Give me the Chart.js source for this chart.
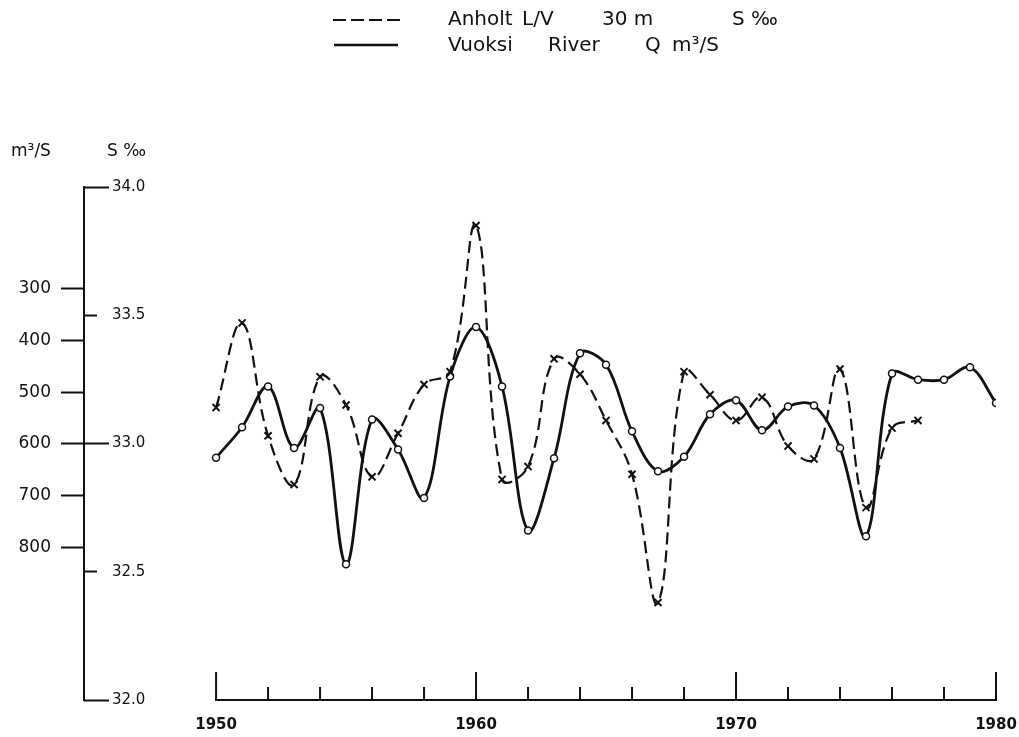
<!DOCTYPE html>
<html>
<head>
<meta charset="utf-8">
<script src="https://cdn.jsdelivr.net/npm/chart.js@4/dist/chart.umd.min.js"></script>
<style>
  html, body { margin: 0; padding: 0; background: #fff; }
  #wrap { width: 1019px; height: 737px; position: relative; }
</style>
</head>
<body>
<div id="wrap"><canvas id="c" width="1019" height="737"></canvas></div>
<script>
// years, Vuoksi River discharge (m3/s) and Anholt L/V 30 m salinity (per mille)
const yearsQ = [1950, 1951, 1952, 1953, 1954, 1955, 1956, 1957, 1958, 1959,
  1960, 1961, 1962, 1963, 1964, 1965, 1966, 1967, 1968, 1969,
  1970, 1971, 1972, 1973, 1974, 1975, 1976, 1977, 1978, 1979, 1980];
const vuoksiQ = [627, 568, 489, 608, 531, 833, 553, 611, 705, 470,
  374, 489, 768, 628, 425, 447, 576, 653, 625, 543,
  516, 574, 528, 526, 608, 779, 464, 476, 476, 452, 521];

const yearsS = [1950, 1951, 1952, 1953, 1954, 1955, 1956, 1957, 1958, 1959,
  1960, 1961, 1962, 1963, 1964, 1965, 1966, 1967, 1968, 1969,
  1970, 1971, 1972, 1973, 1974, 1975, 1976, 1977];
const anholtS = [33.14, 33.47, 33.03, 32.84, 33.26, 33.15, 32.87, 33.04, 33.23, 33.28,
  33.85, 32.86, 32.91, 33.33, 33.27, 33.09, 32.88, 32.38, 33.28, 33.19,
  33.09, 33.18, 32.99, 32.94, 33.29, 32.75, 33.06, 33.09];

// tick labels
const xLabelYears = [1950, 1960, 1970, 1980];
const xTickYears = [1950, 1952, 1954, 1956, 1958, 1960, 1962, 1964, 1966, 1968,
  1970, 1972, 1974, 1976, 1978, 1980];
const qTicks = [300, 400, 500, 600, 700, 800];
const sTicksMajor = [32.0, 33.0, 34.0];
const sTicksHalf = [32.5, 33.5];

const INK = '#111';
const FONT = 'DejaVu Sans';

// x axis base line and ticks, headers and legend
const extras = {
  id: 'extras',
  afterDraw(chart) {
    const ctx = chart.ctx;
    const x = chart.scales.x;
    const base = chart.chartArea.bottom;
    ctx.save();
    ctx.strokeStyle = INK;
    ctx.lineWidth = 2;
    ctx.beginPath();
    ctx.moveTo(x.getPixelForValue(xTickYears[0]), base);
    ctx.lineTo(x.getPixelForValue(xTickYears[xTickYears.length - 1]), base);
    xTickYears.forEach((yr) => {
      const px = x.getPixelForValue(yr);
      const len = xLabelYears.includes(yr) ? 28 : 13;
      ctx.moveTo(px, base + 1);
      ctx.lineTo(px, base - len);
    });
    ctx.stroke();

    ctx.fillStyle = INK;
    ctx.textBaseline = 'middle';
    ctx.font = '17px "' + FONT + '"';
    ctx.fillText('m³/S', 11, 152);
    ctx.fillText('S ‰', 107, 152);

    // legend
    ctx.lineWidth = 2;
    ctx.setLineDash([13, 5]);
    ctx.beginPath();
    ctx.moveTo(333, 20);
    ctx.lineTo(400, 20);
    ctx.stroke();
    ctx.setLineDash([]);
    ctx.lineWidth = 2.5;
    ctx.beginPath();
    ctx.moveTo(334, 45);
    ctx.lineTo(398, 45);
    ctx.stroke();

    ctx.font = '20px "' + FONT + '"';
    const row1 = [['Anholt', 448], ['L/V', 522], ['30 m', 602], ['S ‰', 732]];
    const row2 = [['Vuoksi', 448], ['River', 548], ['Q', 645], ['m³/S', 672]];
    row1.forEach(([t, px]) => ctx.fillText(t, px, 20));
    row2.forEach(([t, px]) => ctx.fillText(t, px, 46));
    ctx.restore();
  }
};

const setTicks = (vals) => (axis) => { axis.ticks = vals.map((v) => ({ value: v })); };

new Chart(document.getElementById('c'), {
  type: 'line',
  data: {
    datasets: [
      {
        label: 'Anholt L/V 30 m S ‰',
        data: yearsS.map((yr, i) => ({ x: yr, y: anholtS[i] })),
        yAxisID: 's',
        borderColor: INK,
        borderWidth: 2.2,
        borderDash: [12, 6],
        tension: 0.4,
        pointStyle: 'crossRot',
        pointRadius: 5,
        pointBorderWidth: 2,
        pointBorderColor: INK,
        fill: false
      },
      {
        label: 'Vuoksi River Q m³/S',
        data: yearsQ.map((yr, i) => ({ x: yr, y: vuoksiQ[i] })),
        yAxisID: 'q',
        borderColor: INK,
        borderWidth: 2.8,
        tension: 0.35,
        pointStyle: 'circle',
        pointRadius: 3.5,
        pointBorderWidth: 1.5,
        pointBorderColor: INK,
        pointBackgroundColor: '#fff',
        fill: false
      }
    ]
  },
  options: {
    responsive: false,
    animation: false,
    layout: { padding: { top: 187, right: 23, left: 0, bottom: 0 } },
    plugins: { legend: { display: false }, tooltip: { enabled: false } },
    scales: {
      x: {
        type: 'linear',
        min: 1944.92,
        max: 1980,
        afterBuildTicks: setTicks(xLabelYears),
        afterFit: (s) => { s.height = 37; },
        border: { display: false },
        grid: { drawOnChartArea: false, tickColor: 'rgba(0,0,0,0)', tickLength: 14 },
        ticks: {
          color: INK,
          padding: 2,
          font: { family: FONT, size: 15, weight: 'bold' },
          callback: (v) => String(v)
        }
      },
      q: {
        type: 'linear',
        position: 'left',
        weight: 2,
        reverse: true,
        min: 103,
        max: 1096,
        afterBuildTicks: setTicks(qTicks),
        afterFit: (s) => { s.width = 84; },
        border: { display: true, color: INK, width: 2 },
        grid: { drawOnChartArea: false, color: INK, tickColor: INK, tickLength: 23, tickWidth: 2 },
        ticks: { color: INK, padding: 10, font: { family: FONT, size: 17 } }
      },
      s: {
        type: 'linear',
        position: 'left',
        weight: 1,
        min: 32,
        max: 34,
        afterBuildTicks: setTicks(sTicksMajor),
        afterFit: (s) => { s.width = 0; },
        border: { display: false },
        grid: { drawOnChartArea: false, color: INK, tickColor: INK, tickLength: -25, tickWidth: 2 },
        ticks: {
          mirror: true, color: INK, padding: 28,
          font: { family: FONT, size: 15 },
          callback: (v) => v.toFixed(1)
        }
      },
      sh: {
        type: 'linear',
        position: 'left',
        weight: 0,
        min: 32,
        max: 34,
        afterBuildTicks: setTicks(sTicksHalf),
        afterFit: (s) => { s.width = 0; },
        border: { display: false },
        grid: { drawOnChartArea: false, color: INK, tickColor: INK, tickLength: -13, tickWidth: 2 },
        ticks: {
          mirror: true, color: INK, padding: 28,
          font: { family: FONT, size: 15 },
          callback: (v) => v.toFixed(1)
        }
      }
    }
  },
  plugins: [extras]
});
</script>
</body>
</html>
